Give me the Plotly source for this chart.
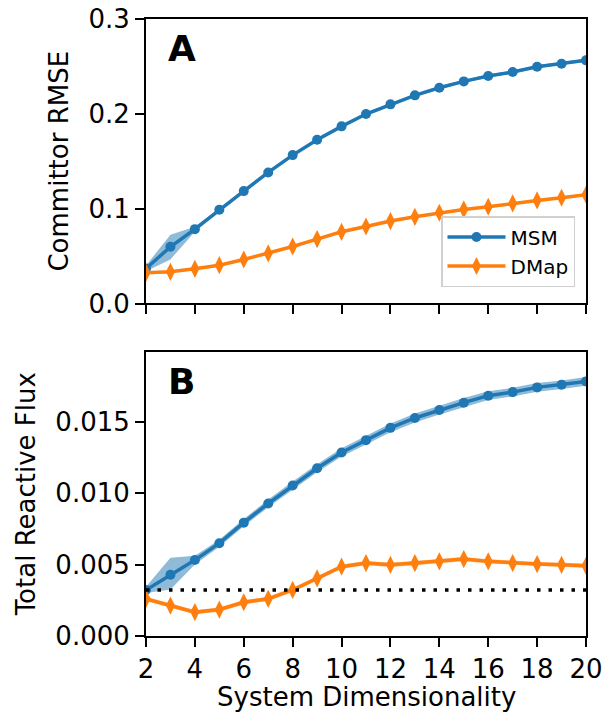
import plotly.graph_objects as go
from plotly.subplots import make_subplots

dims = [2, 3, 4, 5, 6, 7, 8, 9, 10, 11, 12, 13, 14, 15, 16, 17, 18, 19, 20]

# Panel A: committor RMSE
msm_rmse = [0.0369, 0.0598, 0.0784, 0.0988, 0.1185, 0.1382, 0.1565, 0.1727, 0.1868, 0.1998,
            0.2100, 0.2195, 0.2275, 0.2342, 0.2399, 0.2441, 0.2497, 0.2529, 0.2564]
msm_rmse_lo = [0.0340, 0.0465, 0.0757, 0.0972, 0.1170, 0.1368, 0.1550, 0.1712, 0.1853, 0.1983,
               0.2086, 0.2180, 0.2260, 0.2327, 0.2384, 0.2426, 0.2482, 0.2514, 0.2548]
msm_rmse_hi = [0.0400, 0.0725, 0.0810, 0.1004, 0.1200, 0.1396, 0.1580, 0.1742, 0.1883, 0.2013,
               0.2114, 0.2210, 0.2290, 0.2357, 0.2414, 0.2456, 0.2512, 0.2544, 0.2580]
dmap_rmse = [0.0324, 0.0334, 0.0366, 0.0404, 0.0464, 0.0528, 0.0601, 0.0679, 0.0756, 0.0812,
             0.0869, 0.0914, 0.0957, 0.0992, 0.1020, 0.1055, 0.1087, 0.1115, 0.1147]
dmap_rmse_lo = [0.0312, 0.0322, 0.0354, 0.0392, 0.0452, 0.0516, 0.0589, 0.0667, 0.0744, 0.0800,
                0.0857, 0.0902, 0.0945, 0.0980, 0.1008, 0.1043, 0.1075, 0.1103, 0.1135]
dmap_rmse_hi = [0.0336, 0.0346, 0.0378, 0.0416, 0.0476, 0.0540, 0.0613, 0.0691, 0.0768, 0.0824,
                0.0881, 0.0926, 0.0969, 0.1004, 0.1032, 0.1067, 0.1099, 0.1127, 0.1159]

# Panel B: total reactive flux
msm_flux = [0.00322, 0.00429, 0.00531, 0.00649, 0.00793, 0.00927, 0.01053, 0.01173, 0.01284, 0.01370,
            0.01456, 0.01525, 0.01581, 0.01632, 0.01681, 0.01706, 0.01739, 0.01757, 0.01781]
msm_flux_lo = [0.00300, 0.00325, 0.00500, 0.00625, 0.00768, 0.00900, 0.01025, 0.01145, 0.01255, 0.01340,
               0.01425, 0.01494, 0.01550, 0.01600, 0.01650, 0.01676, 0.01709, 0.01727, 0.01751]
msm_flux_hi = [0.00345, 0.00548, 0.00562, 0.00673, 0.00818, 0.00954, 0.01081, 0.01201, 0.01313, 0.01400,
               0.01487, 0.01556, 0.01612, 0.01664, 0.01712, 0.01736, 0.01769, 0.01787, 0.01811]
dmap_flux = [0.00260, 0.00213, 0.00167, 0.00185, 0.00236, 0.00260, 0.00322, 0.00403, 0.00485, 0.00510,
             0.00498, 0.00510, 0.00522, 0.00538, 0.00522, 0.00510, 0.00503, 0.00498, 0.00491]
dmap_flux_lo = [0.00245, 0.00198, 0.00152, 0.00170, 0.00221, 0.00245, 0.00307, 0.00388, 0.00470, 0.00495,
                0.00483, 0.00495, 0.00507, 0.00523, 0.00507, 0.00495, 0.00488, 0.00483, 0.00476]
dmap_flux_hi = [0.00275, 0.00228, 0.00182, 0.00200, 0.00251, 0.00275, 0.00337, 0.00418, 0.00500, 0.00525,
                0.00513, 0.00525, 0.00537, 0.00553, 0.00537, 0.00525, 0.00518, 0.00513, 0.00506]
true_flux = 0.00322

x_ticks = [2, 4, 6, 8, 10, 12, 14, 16, 18, 20]

BLUE = "#1f77b4"
ORANGE = "#ff7f0e"
BLUE_FILL = "rgba(31,119,180,0.5)"
ORANGE_FILL = "rgba(255,127,14,0.5)"
FONT = "DejaVu Sans"

fig = make_subplots(rows=2, cols=1, shared_xaxes=True, vertical_spacing=0.0778)


def band(lo, hi, color, row):
    fig.add_trace(go.Scatter(x=dims + dims[::-1], y=hi + lo[::-1], fill="toself",
                             fillcolor=color, line=dict(width=0), mode="lines",
                             hoverinfo="skip", showlegend=False), row=row, col=1)


def series(y, name, color, symbol, size, row, legend):
    fig.add_trace(go.Scatter(x=dims, y=y, name=name, mode="lines+markers",
                             line=dict(color=color, width=3.5),
                             marker=dict(symbol=symbol, size=size, color=color, line=dict(width=0)),
                             showlegend=legend), row=row, col=1)


band(msm_rmse_lo, msm_rmse_hi, BLUE_FILL, 1)
series(msm_rmse, "MSM", BLUE, "circle", 10, 1, True)
band(dmap_rmse_lo, dmap_rmse_hi, ORANGE_FILL, 1)
series(dmap_rmse, "DMap", ORANGE, "diamond-tall", 13, 1, True)

band(msm_flux_lo, msm_flux_hi, BLUE_FILL, 2)
series(msm_flux, "MSM", BLUE, "circle", 10, 2, False)
band(dmap_flux_lo, dmap_flux_hi, ORANGE_FILL, 2)
series(dmap_flux, "DMap", ORANGE, "diamond-tall", 13, 2, False)

fig.add_trace(go.Scatter(x=[dims[0], dims[-1]], y=[true_flux, true_flux], mode="lines",
                         line=dict(color="black", width=3.5, dash="3.5px,8px"),
                         showlegend=False, hoverinfo="skip"), row=2, col=1)

axis_common = dict(showline=True, mirror=True, linecolor="black", linewidth=2,
                   ticks="outside", ticklen=9, tickwidth=2, tickcolor="black",
                   showgrid=False, zeroline=False, automargin=False,
                   ticklabeloverflow="allow",
                   tickfont=dict(family=FONT, size=26, color="black"))

fig.update_xaxes(range=[2, 20], tickvals=x_ticks, **axis_common)
fig.update_xaxes(showticklabels=False, row=1, col=1)
fig.update_yaxes(**axis_common)
fig.update_yaxes(range=[0, 0.3], tickvals=[0, 0.1, 0.2, 0.3], tickformat=".1f",
                 title=dict(text="Committor RMSE", font=dict(family=FONT, size=26, color="black"),
                            standoff=12), row=1, col=1)
fig.update_yaxes(range=[0, 0.0199], tickvals=[0, 0.005, 0.010, 0.015], tickformat=".3f",
                 title=dict(text="Total Reactive Flux", font=dict(family=FONT, size=26, color="black"),
                            standoff=12), row=2, col=1)

# x-axis title as annotation so it can sit at the bottom edge like the reference
fig.add_annotation(text="System Dimensionality", xref="x2 domain", yref="paper", x=0.5, y=-0.0715,
                   xanchor="center", yanchor="top", showarrow=False,
                   font=dict(family=FONT, size=26, color="black"))

fig.add_annotation(text="<b>A</b>", xref="x domain", yref="y domain", x=0.045, y=0.975,
                   xanchor="left", yanchor="top", showarrow=False,
                   font=dict(family=FONT, size=36, color="black"))
fig.add_annotation(text="<b>B</b>", xref="x2 domain", yref="y2 domain", x=0.045, y=0.975,
                   xanchor="left", yanchor="top", showarrow=False,
                   font=dict(family=FONT, size=36, color="black"))

fig.update_layout(
    width=607, height=705,
    margin=dict(l=138, r=29, t=11, b=77, autoexpand=False),
    paper_bgcolor="white", plot_bgcolor="white",
    font=dict(family=FONT, color="black"),
    legend=dict(x=0.975, y=0.5656, xanchor="right", yanchor="bottom",
                bgcolor="white", bordercolor="#d0d0d0", borderwidth=1.5,
                font=dict(family=FONT, size=20, color="black"),
                itemwidth=58, tracegroupgap=0),
    showlegend=True,
)

fig.write_html("out.html")
